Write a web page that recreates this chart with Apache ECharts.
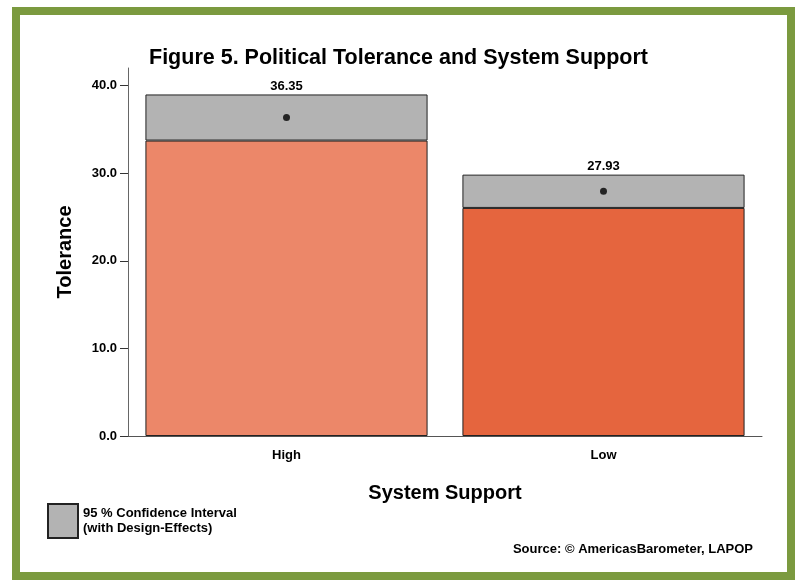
<!DOCTYPE html>
<html>
<head>
<meta charset="utf-8">
<script src="https://cdn.jsdelivr.net/npm/echarts@6/dist/echarts.min.js"></script>
<style>
  html, body { margin: 0; padding: 0; background: #ffffff; }
  #frame { position: absolute; left: 12px; top: 7px; width: 767px; height: 557px;
           border: 8px solid #7b9a3f; background: #ffffff; }
  #chart { position: absolute; left: 0; top: 0; width: 797px; height: 582px; }
</style>
</head>
<body>
<div id="frame"></div>
<div id="chart"></div>
<script>
// System support groups and their mean tolerance with 95% confidence bounds
const categories = ['High', 'Low'];
const means = [36.35, 27.93];
const lowerCI = [33.72, 26.03];
const upperCI = [38.98, 29.83];
const barColors = ['#ec8769', '#e5653e'];
const tickValues = [0, 10, 20, 30, 40];

const FONT = 'Liberation Sans, Arial, Helvetica, sans-serif';
const chart = echarts.init(document.getElementById('chart'), null, { renderer: 'canvas' });

chart.setOption({
  backgroundColor: 'transparent',
  animation: false,
  title: {
    text: 'Figure 5. Political Tolerance and System Support',
    left: 'center',
    top: 42,
    textStyle: { fontFamily: FONT, fontWeight: 'bold', fontSize: 21.5, color: '#000' }
  },
  legend: {
    data: ['95 % Confidence Interval\n(with Design-Effects)'],
    left: 42,
    top: 498,
    icon: 'rect',
    itemWidth: 30,
    itemHeight: 34,
    textStyle: { fontFamily: FONT, fontWeight: 'bold', fontSize: 13, color: '#000', lineHeight: 15 }
  },
  grid: { left: 128, right: 35, top: 68, bottom: 146 },
  xAxis: {
    type: 'category',
    data: categories,
    name: 'System Support',
    nameLocation: 'middle',
    nameGap: 47,
    nameTextStyle: { fontFamily: FONT, fontWeight: 'bold', fontSize: 20, color: '#000' },
    axisLine: { lineStyle: { color: '#555', width: 1 } },
    axisTick: { alignWithLabel: true, length: 5, lineStyle: { color: '#333' } },
    axisLabel: { fontFamily: FONT, fontWeight: 'bold', fontSize: 13, color: '#000', margin: 13 }
  },
  yAxis: {
    type: 'value',
    min: 0,
    max: 42,
    interval: 10,
    name: 'Tolerance',
    nameLocation: 'middle',
    nameGap: 53,
    nameRotate: 90,
    nameTextStyle: { fontFamily: FONT, fontWeight: 'bold', fontSize: 20, color: '#000' },
    splitLine: { show: false },
    axisLine: { show: true, lineStyle: { color: '#666', width: 1 } },
    axisTick: { show: true, length: 8, customValues: tickValues, lineStyle: { color: '#333' } },
    axisLabel: {
      fontFamily: FONT, fontWeight: 'bold', fontSize: 13, color: '#000', margin: 11,
      customValues: tickValues,
      formatter: v => v.toFixed(1)
    }
  },
  series: [
    {
      name: 'base',
      type: 'bar',
      stack: 'ci',
      barWidth: '89%',
      data: lowerCI.map((v, i) => ({ value: v, itemStyle: { color: barColors[i] } })),
      itemStyle: { borderColor: '#222', borderWidth: 1 }
    },
    {
      name: '95 % Confidence Interval\n(with Design-Effects)',
      type: 'bar',
      stack: 'ci',
      barWidth: '89%',
      data: upperCI.map((v, i) => +(v - lowerCI[i]).toFixed(2)),
      itemStyle: { color: '#b3b3b3', borderColor: '#222', borderWidth: 1 },
      label: {
        show: true,
        position: 'top',
        distance: 2,
        fontFamily: FONT, fontWeight: 'bold', fontSize: 13, color: '#000',
        formatter: p => means[p.dataIndex].toFixed(2)
      }
    },
    {
      name: 'mean',
      type: 'scatter',
      data: means,
      symbol: 'circle',
      symbolSize: 7,
      itemStyle: { color: '#000' },
      z: 5
    }
  ],
  graphic: [
    {
      type: 'text',
      right: 44,
      top: 543,
      style: {
        text: 'Source: \u00a9 AmericasBarometer, LAPOP',
        font: 'bold 13px ' + FONT,
        fill: '#000'
      }
    }
  ]
});
</script>
</body>
</html>
